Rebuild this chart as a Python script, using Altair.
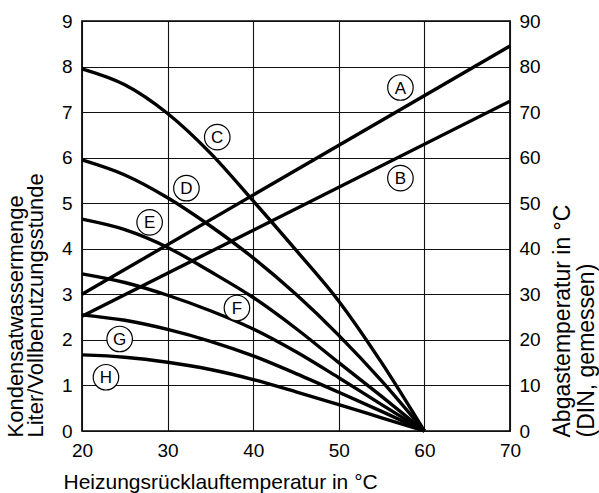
import altair as alt
import pandas as pd

# Heating return temperature (°C) sampling points for the condensate curves
ret_temp = [20, 25, 30, 35, 40, 45, 50, 55, 60]

# Condensate quantity (litres per full-load hour), curves C..H
curve_C = [7.95, 7.60, 6.97, 6.10, 5.05, 3.97, 2.85, 1.50, 0.0]
curve_D = [5.95, 5.62, 5.12, 4.50, 3.80, 3.00, 2.10, 1.10, 0.0]
curve_E = [4.65, 4.42, 4.03, 3.50, 2.93, 2.25, 1.50, 0.76, 0.0]
curve_F = [3.45, 3.26, 2.98, 2.64, 2.24, 1.74, 1.17, 0.58, 0.0]
curve_G = [2.55, 2.43, 2.23, 1.97, 1.65, 1.26, 0.85, 0.43, 0.0]
curve_H = [1.67, 1.62, 1.51, 1.35, 1.13, 0.86, 0.58, 0.29, 0.0]

# Flue gas temperature (°C), lines A and B
flue_x = [20, 70]
flue_A = [30.0, 84.5]
flue_B = [25.2, 72.4]

# Circled curve letters (positions in litre units of the left axis)
label_letters = ["A", "B", "C", "D", "E", "F", "G", "H"]
label_x = [57.2, 57.2, 35.8, 32.2, 27.9, 38.1, 24.4, 22.8]
label_y = [7.54, 5.55, 6.45, 5.33, 4.58, 2.70, 2.02, 1.18]

FONT = "Liberation Sans"

curves = {"C": curve_C, "D": curve_D, "E": curve_E, "F": curve_F, "G": curve_G, "H": curve_H}
cond_df = pd.DataFrame(
    [{"temp": t, "val": v, "curve": k} for k, vals in curves.items() for t, v in zip(ret_temp, vals)]
)
flue_df = pd.DataFrame(
    [{"temp": t, "val": v, "curve": k} for k, vals in {"A": flue_A, "B": flue_B}.items() for t, v in zip(flue_x, vals)]
)
lab_df = pd.DataFrame({"temp": label_x, "val": label_y, "letter": label_letters})

x_enc = alt.X(
    "temp:Q",
    scale=alt.Scale(domain=[20, 70], nice=False, zero=False),
    axis=alt.Axis(
        values=[20, 30, 40, 50, 60, 70],
        grid=True, gridColor="#111", gridWidth=1.1,
        ticks=False, domain=False,
        labelFontSize=19, labelFont=FONT, labelColor="black",
        labelPadding=10, labelFlush=False, labelOverlap=False, labelBound=False,
        title="Heizungsrücklauftemperatur in °C",
        titleFont=FONT, titleFontSize=21, titleFontWeight="normal", titleColor="black",
        titleX=-19, titleY=57, titleAlign="left", titleBaseline="alphabetic", titleAnchor="start",
    ),
)

left_scale = alt.Scale(domain=[0, 9], nice=False, zero=True)

cond_layer = alt.Chart(cond_df).mark_line(
    color="black", strokeWidth=3.4, interpolate="monotone"
).encode(
    x=x_enc,
    y=alt.Y(
        "val:Q",
        scale=left_scale,
        axis=alt.Axis(
            orient="left",
            values=list(range(0, 10)),
            grid=True, gridColor="#111", gridWidth=1.1,
            ticks=False, domain=False,
            labelFontSize=19, labelFont=FONT, labelColor="black", labelPadding=10,
            title=["Kondensatwassermenge", "Liter/Vollbenutzungsstunde"],
            titleFont=FONT, titleFontSize=22, titleFontWeight="normal", titleColor="black",
            titleAngle=270, titleAlign="left", titleBaseline="top",
            titleX=-77, titleY=416, titleLineHeight=20,
        ),
    ),
    detail="curve:N",
)

flue_layer = alt.Chart(flue_df).mark_line(color="black", strokeWidth=3.4).encode(
    x=x_enc,
    y=alt.Y(
        "val:Q",
        scale=alt.Scale(domain=[0, 90], nice=False, zero=True),
        axis=alt.Axis(
            orient="right",
            values=list(range(0, 100, 10)),
            grid=False, ticks=False, domain=False,
            labelFontSize=19, labelFont=FONT, labelColor="black", labelPadding=9,
            title=["Abgastemperatur in °C", "(DIN, gemessen)"],
            titleFont=FONT, titleFontSize=23, titleFontWeight="normal", titleColor="black",
            titleAngle=270, titleAlign="left", titleBaseline="top",
            titleX=41, titleY=416, titleLineHeight=24,
        ),
    ),
    detail="curve:N",
)

circle_layer = alt.Chart(lab_df).mark_point(
    shape="circle", size=650, filled=True, fill="white", stroke="black", strokeWidth=1.2, opacity=1
).encode(
    x=x_enc,
    y=alt.Y("val:Q", scale=left_scale, axis=None),
)

text_layer = alt.Chart(lab_df).mark_text(
    font=FONT, fontSize=17, color="black", align="center", baseline="middle", dy=1
).encode(
    x=x_enc,
    y=alt.Y("val:Q", scale=left_scale, axis=None),
    text="letter:N",
)

chart = (
    alt.layer(cond_layer, flue_layer, circle_layer, text_layer)
    .resolve_scale(y="independent")
    .properties(
        width=428,
        height=410,
        padding={"left": 82, "top": 21, "right": 89, "bottom": 62},
        autosize=alt.AutoSizeParams(type="none"),
        background="white",
    )
    .configure_view(stroke="black", strokeWidth=1.7)
)

chart.save("out.html", embed_options={"renderer": "svg", "actions": False})
